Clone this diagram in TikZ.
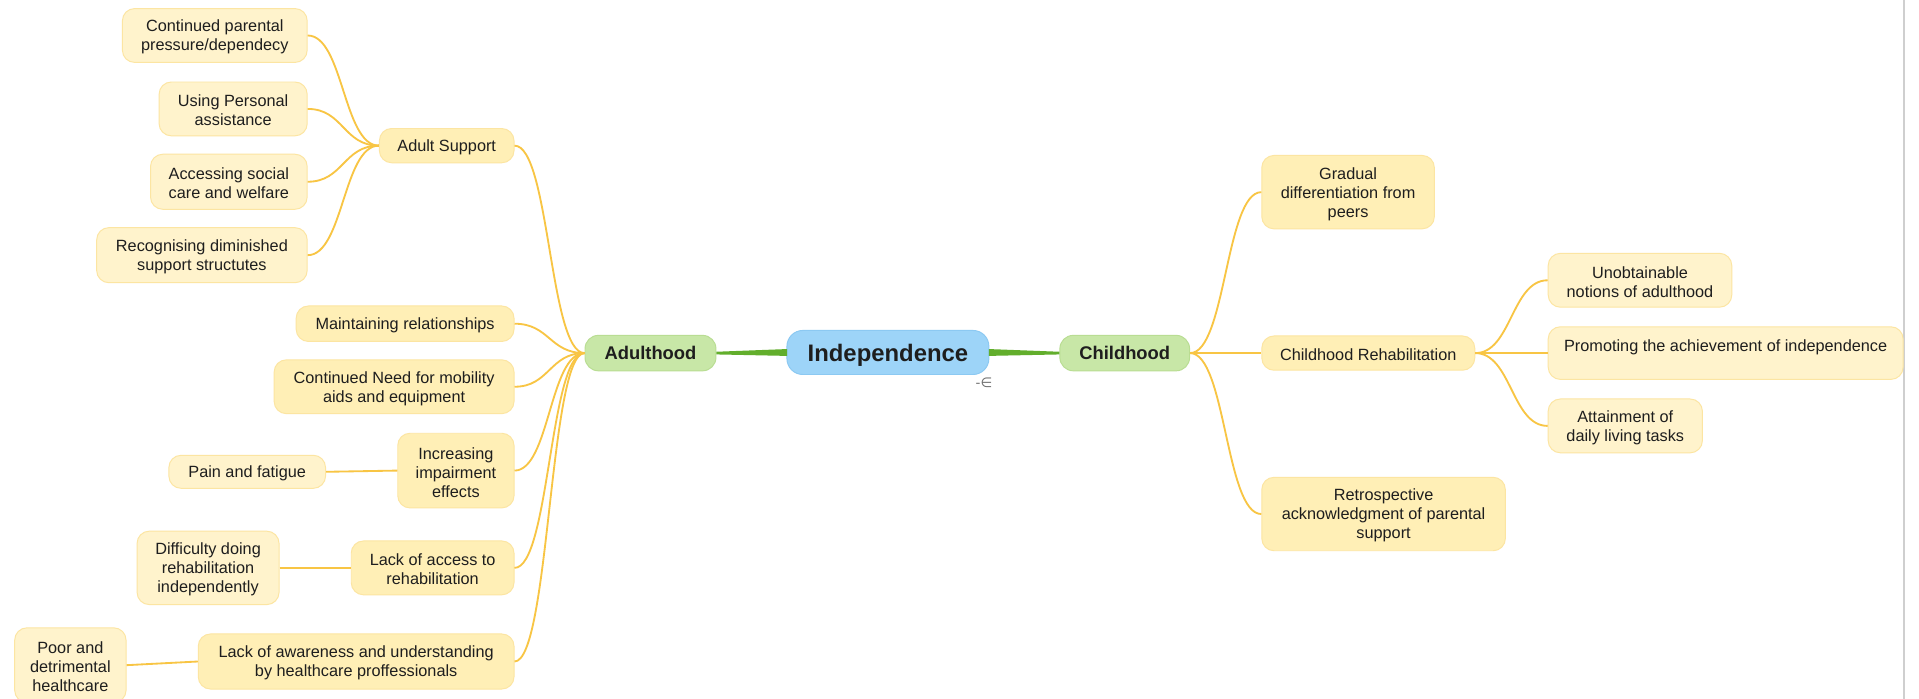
\documentclass[tikz,border=0pt]{standalone}
\usepackage{fontspec}
\setmainfont{Liberation Sans}
\newfontfamily\dejavu{DejaVu Sans}
\usetikzlibrary{calc}
\definecolor{ylw}{HTML}{FFEFB6}
\definecolor{ylwd}{HTML}{FCE5A2}
\definecolor{ylwl}{HTML}{FFF3CC}
\definecolor{grn}{HTML}{C8E7A7}
\definecolor{grnd}{HTML}{B9DD93}
\definecolor{grnl}{HTML}{62AE2C}
\definecolor{blu}{HTML}{9DD4F8}
\definecolor{blud}{HTML}{8CC9F2}
\definecolor{edg}{HTML}{F8C544}
\definecolor{txt}{HTML}{1E1E1E}
\definecolor{sep}{HTML}{CFCFCF}
\definecolor{icon}{HTML}{707070}
\tikzset{
  box/.style={rounded corners=10pt, fill=ylw, draw=ylwd, line width=0.8pt, align=center,
    inner sep=0pt, text=txt, font=\fontsize{13.3}{15.5}\selectfont,
    execute at begin node={\rule{0pt}{12.4pt}}},
  two/.style={execute at begin node={\rule{0pt}{27.9pt}}},
  three/.style={execute at begin node={\rule{0pt}{43.4pt}}},
  leaf/.style={box, fill=ylwl},
  mainbox/.style={rounded corners=11pt, fill=grn, draw=grnd, line width=0.8pt, inner sep=0pt,
    text=txt, font=\fontsize{15}{18}\selectfont\bfseries, text depth=0pt},
  rootbox/.style={rounded corners=13pt, fill=blu, draw=blud, line width=0.8pt, inner sep=0pt,
    text=txt, font=\fontsize{19.5}{22}\selectfont\bfseries, text depth=0pt},
  edge/.style={draw=edg, line width=1.5pt},
  curv/.style={to path={let \p1=(\tikztostart), \p2=(\tikztotarget),
    \p3=($(\tikztostart)!0.5!(\tikztotarget)$) in
    .. controls (\x3,\y1) and (\x3,\y2) .. (\tikztotarget)}},
  sz/.style n args={2}{minimum width=#1pt, minimum height=#2pt}
}
\begin{document}
\begin{tikzpicture}[x=1pt,y=-1pt]
\useasboundingbox (0,0) rectangle (1568,571);
\fill[white] (0,0) rectangle (1568,571);
\draw[sep, line width=1.5pt] (1556,0) -- (1556,571);

% root and main branches
\node[rootbox, sz={165}{36}] (ind) at (725.5,288) {Independence};
\node[mainbox, sz={107}{29}] (adu) at (531.5,288.5) {Adulthood};
\node[mainbox, sz={106}{29}] (chi) at (919,288.5) {Childhood};
\node[text=icon, font=\dejavu\fontsize{11}{11}\selectfont, inner sep=0pt] (col) at (804,313) {-∈};

% adulthood side
\node[box, sz={110}{28}] (as) at (365,119) {Adult Support};
\node[leaf, two, sz={151}{44}] (cp) at (175.5,29) {Continued parental\\pressure/dependecy};
\node[leaf, two, sz={121}{44}] (up) at (190.5,89) {Using Personal\\assistance};
\node[leaf, two, sz={128}{45}] (acs) at (187,148.5) {Accessing social\\care and welfare};
\node[leaf, two, sz={172}{45}] (rd) at (165,208.5) {Recognising diminished\\support structutes};
\node[box, sz={178}{29}] (mr) at (331,264.5) {Maintaining relationships};
\node[box, two, sz={196}{44}] (cn) at (322,316) {Continued Need for mobility\\aids and equipment};
\node[box, three, sz={95}{61}] (ii) at (372.5,384.5) {Increasing\\impairment\\effects};
\node[box, two, sz={133}{44}] (la) at (353.5,464) {Lack of access to\\rehabilitation};
\node[box, two, sz={258}{45}] (law) at (291,540.5) {Lack of awareness and understanding\\by healthcare proffessionals};
\node[leaf, sz={128}{27}] (pf) at (202,385.5) {Pain and fatigue};
\node[leaf, three, sz={116}{60}] (dr) at (170,464) {Difficulty doing\\rehabilitation\\independently};
\node[leaf, three, sz={91}{61}] (pd) at (57.5,543.5) {Poor and\\detrimental\\healthcare};

% childhood side
\node[box, three, sz={141}{60}] (gd) at (1101.5,157) {Gradual\\differentiation from\\peers};
\node[box, sz={174}{28}] (cr) at (1118,288.5) {Childhood Rehabilitation};
\node[box, three, sz={199}{60}] (ra) at (1130.5,420) {Retrospective\\acknowledgment of parental\\support};
\node[leaf, two, sz={150}{44}] (un) at (1340,229) {Unobtainable\\notions of adulthood};
\node[leaf, two, sz={290}{43}] (pa) at (1410,288.5) {Promoting the achievement of independence\\\mbox{}};
\node[leaf, two, sz={126}{44}] (at) at (1328,348) {Attainment of\\daily living tasks};

% green tapered connectors
\fill[grnl] ($(ind.west)+(0.5,-2.8)$) -- ($(adu.east)+(0,-1.1)$) -- ($(adu.east)+(0,1.1)$) -- ($(ind.west)+(0.5,2.8)$) -- cycle;
\fill[grnl] ($(ind.east)+(-0.5,-2.8)$) -- ($(chi.west)+(0,-1.1)$) -- ($(chi.west)+(0,1.1)$) -- ($(ind.east)+(-0.5,2.8)$) -- cycle;

% adulthood edges
\foreach \nm in {as,mr,cn,ii,la,law}
  \draw[edge] (adu.west) to[curv] (\nm.east);
\foreach \nm in {cp,up,acs,rd}
  \draw[edge] (as.west) to[curv] (\nm.east);
\draw[edge] (pf.east) -- (ii.west);
\draw[edge] (dr.east) -- (la.west);
\draw[edge] (pd.east) -- (law.west);

% childhood edges
\foreach \nm in {gd,cr,ra}
  \draw[edge] (chi.east) to[curv] (\nm.west);
\foreach \nm in {un,pa,at}
  \draw[edge] (cr.east) to[curv] (\nm.west);
\end{tikzpicture}
\end{document}
